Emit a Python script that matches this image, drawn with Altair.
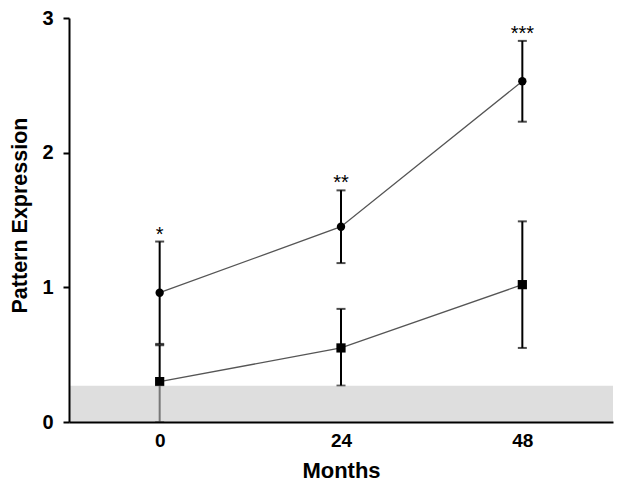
import altair as alt
import pandas as pd

months = [0, 24, 48]
circle_mean = [0.96, 1.45, 2.53]
circle_lo = [0.58, 1.18, 2.23]
circle_hi = [1.34, 1.72, 2.83]
square_mean = [0.30, 0.55, 1.02]
square_lo = [0.0, 0.27, 0.55]
square_hi = [0.57, 0.84, 1.49]
stars = ["*", "**", "***"]
band_top = 0.27
x_domain = [-12, 60]
y_ticks = [0, 1, 2, 3]

FONT = "Liberation Sans"

rows = []
for s, mean, lo, hi in [("circle", circle_mean, circle_lo, circle_hi),
                        ("square", square_mean, square_lo, square_hi)]:
    for m, v, l, h in zip(months, mean, lo, hi):
        rows.append({"month": m, "series": s, "mean": v, "lo": l, "hi": h})
df = pd.DataFrame(rows)

caps = pd.concat([
    df[["month", "series"]].assign(y=df["lo"]),
    df[["month", "series"]].assign(y=df["hi"]),
])

star_df = pd.DataFrame({"month": months, "hi": circle_hi, "label": stars})
band_df = pd.DataFrame({"x": [x_domain[0]], "x2": [x_domain[1]], "y": [0.0], "y2": [band_top]})

xs = alt.Scale(domain=x_domain, nice=False, zero=False)
ys = alt.Scale(domain=[0, 3], nice=False)

x_axis = alt.Axis(values=months, ticks=False, tickSize=0, labelFont=FONT, labelFontSize=19,
                  labelFontWeight="bold", labelColor="black", labelBaseline="alphabetic",
                  labelPadding=24, title="Months", titleFont=FONT, titleFontSize=22,
                  titleFontWeight="bold", titleColor="black", titleBaseline="alphabetic",
                  titleY=55, domainColor="black", domainWidth=2, grid=False, zindex=1)
y_axis = alt.Axis(values=y_ticks, tickSize=6, tickWidth=2, tickColor="black", labelFont=FONT,
                  labelFontSize=20, labelFontWeight="bold", labelColor="black", labelPadding=10,
                  title="Pattern Expression", titleFont=FONT, titleFontSize=21.5,
                  titleFontWeight="bold", titleColor="black", titleBaseline="alphabetic",
                  titleAngle=-90, titleX=-43, titleY=197, titleAlign="center",
                  domainColor="black", domainWidth=2, grid=False, zindex=1, format="d")

base = alt.Chart(df)

lines = base.mark_line(color="#555555", strokeWidth=1.3).encode(
    x=alt.X("month:Q", scale=xs, axis=x_axis),
    y=alt.Y("mean:Q", scale=ys, axis=y_axis),
    detail="series:N",
)

err = base.mark_rule(color="black", strokeWidth=2).encode(
    x="month:Q", y="lo:Q", y2="hi:Q"
)

cap = alt.Chart(caps).mark_tick(color="black", thickness=2, size=9, orient="horizontal").encode(
    x="month:Q", y="y:Q"
)

circles = base.transform_filter(alt.datum.series == "circle").mark_point(
    shape="circle", filled=True, color="black", size=70, opacity=1
).encode(x="month:Q", y="mean:Q")

squares = base.transform_filter(alt.datum.series == "square").mark_point(
    shape="square", filled=True, color="black", size=85, opacity=1
).encode(x="month:Q", y="mean:Q")

band = alt.Chart(band_df).mark_rect(color="#c8c8c8", opacity=0.6).encode(
    x="x:Q", x2="x2:Q", y="y:Q", y2="y2:Q"
)

text = alt.Chart(star_df).mark_text(font=FONT, fontSize=20, color="black",
                                    baseline="alphabetic", dy=-1).encode(
    x="month:Q", y="hi:Q", text="label:N"
)

chart = alt.layer(lines, err, cap, circles, squares, band, text).properties(
    width=544, height=404,
    autosize=alt.AutoSizeParams(type="none"),
    padding={"left": 61, "top": 10, "right": 3, "bottom": 65},
).configure_view(stroke=None)

chart.save("out.html", embed_options={"renderer": "svg", "actions": False})
